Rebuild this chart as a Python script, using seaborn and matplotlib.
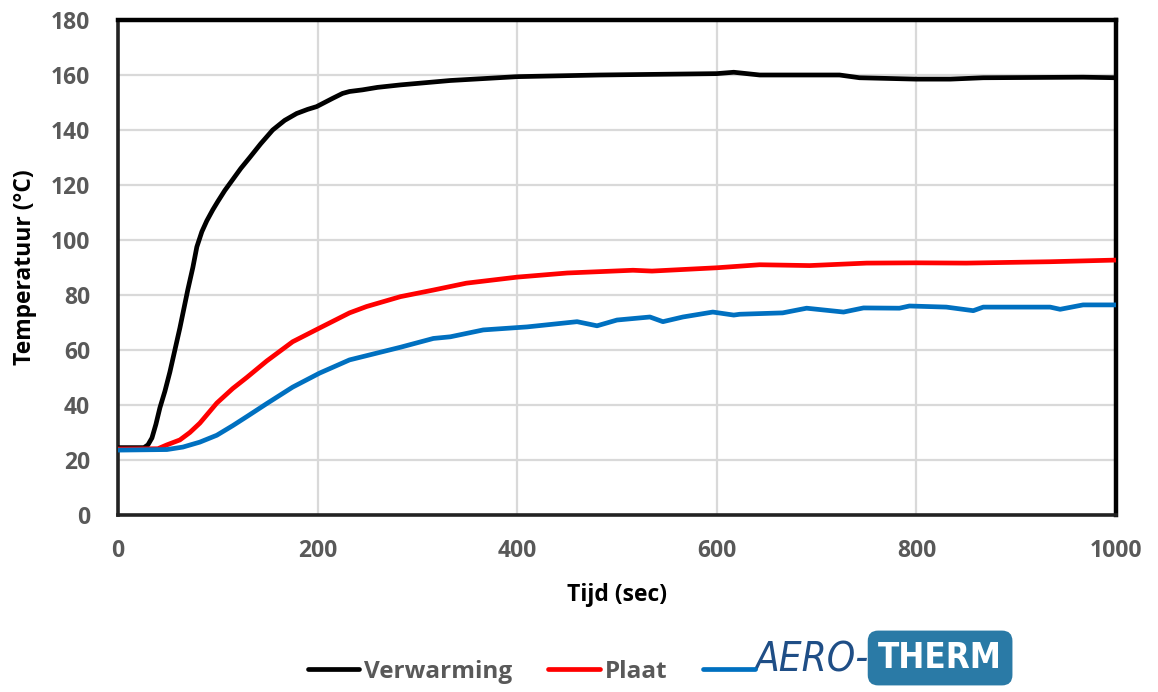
import matplotlib
matplotlib.use("Agg")
import matplotlib.pyplot as plt
import seaborn as sns
import pandas as pd
from matplotlib.lines import Line2D

# ---------------- data ----------------
t_verwarming = [0, 26, 30, 34, 38, 42, 47, 52, 57, 62, 66, 70, 75, 79, 84, 89, 95, 100, 107, 115,
                123, 132, 143, 155, 167, 179, 190, 199, 207, 215, 225, 232, 245, 260, 283, 333,
                400, 483, 600, 617, 643, 700, 723, 743, 800, 834, 867, 967, 1000]
verwarming = [24.5, 24.5, 25.5, 28, 33, 39, 45, 52, 60, 68, 75, 82, 90, 97.5, 103, 107, 111, 114,
              118, 122, 126, 130, 135, 140, 143.5, 146, 147.5, 148.5, 150, 151.5, 153.3, 154,
              154.6, 155.5, 156.4, 158, 159.4, 160, 160.5, 161, 160, 160, 160, 159, 158.5, 158.5,
              159, 159.2, 159]

t_plaat = [0, 40, 49, 62, 72, 82, 99, 115, 129, 149, 175, 202, 232, 249, 283, 316, 349, 400, 450,
           516, 535, 600, 643, 693, 750, 800, 850, 934, 1000]
plaat = [24, 24.1, 25.5, 27.3, 30, 33.4, 40.7, 46, 50, 56, 63, 68, 73.5, 75.8, 79.4, 81.8, 84.3,
         86.5, 88, 89, 88.7, 89.9, 91, 90.7, 91.6, 91.7, 91.6, 92.1, 92.7]

t_aero = [0, 49, 65, 82, 99, 115, 130, 149, 175, 202, 232, 283, 316, 333, 366, 410, 460, 480, 500,
          533, 546, 566, 596, 617, 623, 666, 690, 727, 747, 783, 793, 830, 857, 867, 934, 944, 967, 1000]
aero = [23.6, 23.8, 24.7, 26.5, 29, 32.5, 36, 40.5, 46.5, 51.6, 56.4, 61, 64.2, 64.8, 67.3, 68.4,
        70.3, 68.8, 70.9, 72, 70.3, 72, 73.8, 72.7, 73, 73.5, 75.2, 73.8, 75.3, 75.2, 76, 75.6,
        74.3, 75.6, 75.6, 74.8, 76.4, 76.4]

series_names = ["Verwarming", "Plaat", "AERO-THERM"]
x_ticks = [0, 200, 400, 600, 800, 1000]
y_ticks = [0, 20, 40, 60, 80, 100, 120, 140, 160, 180]
x_label = "Tijd (sec)"
y_label = "Temperatuur (°C)"

# ---------------- style ----------------
sns.set_theme(style="white")
plt.rcParams["font.family"] = ["Open Sans", "DejaVu Sans"]

colors = ["#000000", "#ff0000", "#0070c0"]

df = pd.concat([
    pd.DataFrame({"t": t_verwarming, "T": verwarming, "serie": series_names[0]}),
    pd.DataFrame({"t": t_plaat, "T": plaat, "serie": series_names[1]}),
    pd.DataFrame({"t": t_aero, "T": aero, "serie": series_names[2]}),
])

W, H = 1158, 692
fig = plt.figure(figsize=(W / 100, H / 100), dpi=100)
ax = fig.add_axes([118 / W, 1 - 515 / H, (1116 - 118) / W, (515 - 20) / H])

sns.lineplot(data=df, x="t", y="T", hue="serie", palette=colors, linewidth=3.4,
             ax=ax, legend=False, sort=False, estimator=None, zorder=3)

ax.set_xlim(0, 1000)
ax.set_ylim(0, 180)
ax.set_xticks(x_ticks)
ax.set_yticks(y_ticks)
ax.grid(True, color="#d9d9d9", linewidth=1.6, zorder=0)
ax.set_axisbelow(True)

ax.tick_params(axis="both", length=0, labelsize=16.5, labelcolor="#595959")
ax.tick_params(axis="y", pad=20)
ax.tick_params(axis="x", pad=17)
for lbl in ax.get_xticklabels() + ax.get_yticklabels():
    lbl.set_fontweight("bold")

ax.set_xlabel(x_label, fontsize=16.5, fontweight="bold", color="black", labelpad=15)
ax.set_ylabel(y_label, fontsize=16.5, fontweight="bold", color="black", labelpad=10)

for side in ["top", "right"]:
    ax.spines[side].set_color("black")
    ax.spines[side].set_linewidth(3.2)
for side in ["left", "bottom"]:
    ax.spines[side].set_color("#222222")
    ax.spines[side].set_linewidth(2.6)

# ---------------- legend ----------------
handles = [Line2D([], [], color=c, linewidth=3.4) for c in colors]
leg = fig.legend(handles, [series_names[0], series_names[1], ""], loc="center left",
                 bbox_to_anchor=(0.247, 1 - 672 / H), ncol=3, frameon=False,
                 handlelength=2.1, handletextpad=0.2, columnspacing=1.5,
                 prop={"size": 17.5, "weight": "bold"})
for txt in leg.get_texts():
    txt.set_color("#595959")

fig.canvas.draw()
rend = fig.canvas.get_renderer()
bb0 = leg.get_lines()[0].get_window_extent(rend)
dx = (308 - bb0.x0) / W
leg.set_bbox_to_anchor((0.247 + dx, 1 - 672 / H), transform=fig.transFigure)
fig.canvas.draw()

hline = leg.get_lines()[2]
bb = hline.get_window_extent(rend)
x0 = bb.x1 / W
ycen = (bb.y0 + bb.y1) / 2 / H

t1 = fig.text(x0, ycen + 0.014, "AERO-", fontsize=29, style="italic", color="#1f4e86",
              family="DejaVu Sans", fontstretch="condensed", va="center", ha="left")
fig.canvas.draw()
bb1 = t1.get_window_extent(rend)
fig.text(bb1.x1 / W + 0.008, 1 - 658 / H, "THERM", fontsize=25, color="white",
         family="DejaVu Sans", fontstretch="condensed", fontweight="bold",
         va="center", ha="left",
         bbox=dict(boxstyle="round,pad=0.3", facecolor="#2a7aa6", edgecolor="none"))

fig.savefig("out.png", dpi=100)
